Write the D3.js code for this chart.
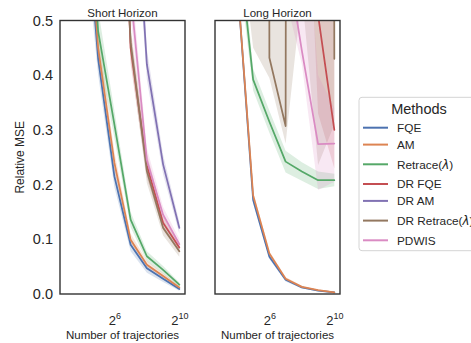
<!DOCTYPE html>
<html>
<head>
<meta charset="utf-8">
<script src="https://cdn.jsdelivr.net/npm/d3@7"></script>
<style>
  body { margin: 0; background: #fff; }
  text { font-family: "Liberation Sans", Arial, sans-serif; fill: #262626; }
</style>
</head>
<body>
<svg id="chart" width="471" height="343"></svg>
<script>
// Number of trajectories used for each estimate
const trajectories = [8, 16, 32, 64, 128, 256, 512, 1024];
const methods = ["FQE", "AM", "Retrace(λ)", "DR FQE", "DR AM", "DR Retrace(λ)", "PDWIS"];
const colors = ["#4c72b0", "#dd8452", "#55a868", "#c44e52", "#8172b3", "#937860", "#da8bc3"];
const panelTitles = ["Short Horizon", "Long Horizon"];
const yTicks = [0, 0.1, 0.2, 0.3, 0.4, 0.5];
const xTicks = [64, 1024];

// Relative MSE per trajectory count: [mean, lower CI, upper CI]
const shortFQE = [[2.0, 1.6, 2.4], [0.8, 0.7, 0.9], [0.43, 0.40, 0.46], [0.215, 0.195, 0.235], [0.09, 0.078, 0.102], [0.047, 0.039, 0.055], [0.028, 0.022, 0.034], [0.009, 0.006, 0.012]];
const shortAM = [[2.2, 1.8, 2.6], [0.85, 0.75, 0.95], [0.45, 0.42, 0.48], [0.24, 0.22, 0.26], [0.099, 0.088, 0.11], [0.0535, 0.046, 0.061], [0.033, 0.028, 0.038], [0.012, 0.009, 0.015]];
const shortRetrace = [[2.5, 2.0, 3.0], [0.95, 0.82, 1.08], [0.48, 0.44, 0.52], [0.31, 0.285, 0.335], [0.136, 0.122, 0.15], [0.069, 0.06, 0.078], [0.044, 0.037, 0.051], [0.017, 0.013, 0.021]];
const shortDRFQE = [[8, 6, 10], [5, 4, 6], [2.5, 2.1, 2.9], [1.2, 1.05, 1.35], [0.45, 0.42, 0.48], [0.235, 0.213, 0.257], [0.13, 0.117, 0.143], [0.085, 0.076, 0.094]];
const shortDRAM = [[10, 8, 12], [6, 5, 7], [3, 2.6, 3.4], [1.8, 1.6, 2.0], [0.9, 0.82, 0.98], [0.42, 0.392, 0.448], [0.237, 0.219, 0.255], [0.121, 0.11, 0.132]];
const shortDRRetrace = [[8, 6, 10], [5, 4, 6], [2.5, 2.1, 2.9], [1.1, 0.98, 1.22], [0.46, 0.43, 0.49], [0.225, 0.203, 0.247], [0.121, 0.107, 0.135], [0.078, 0.068, 0.088]];
const shortPDWIS = [[8, 6, 10], [5, 4, 6], [2.5, 2.1, 2.9], [1.3, 1.15, 1.45], [0.55, 0.51, 0.59], [0.245, 0.223, 0.267], [0.145, 0.131, 0.159], [0.091, 0.081, 0.101]];

const longFQE = [[1.5, 1.4, 1.6], [0.58, 0.56, 0.6], [0.172, 0.166, 0.178], [0.068, 0.064, 0.072], [0.026, 0.023, 0.029], [0.012, 0.01, 0.014], [0.006, 0.005, 0.007], [0.003, 0.002, 0.004]];
const longAM = [[1.5, 1.4, 1.6], [0.58, 0.56, 0.6], [0.18, 0.174, 0.186], [0.074, 0.07, 0.078], [0.028, 0.025, 0.031], [0.013, 0.011, 0.015], [0.007, 0.006, 0.008], [0.003, 0.002, 0.004]];
const longRetrace = [[2.0, 1.8, 2.2], [0.67, 0.62, 0.72], [0.392, 0.372, 0.412], [0.315, 0.295, 0.335], [0.242, 0.222, 0.262], [0.224, 0.207, 0.241], [0.208, 0.192, 0.224], [0.208, 0.197, 0.22]];
const longDRFQE = [[12, 10, 14], [11, 9, 13], [10, 8, 12], [9, 7, 11], [8, 6, 10], [7, 1.0, 14], [0.51, 0.33, 3.0], [0.30, 0.23, 1.5]];
const longDRAM = [[12, 10, 14], [11, 9, 13], [10, 8, 12], [9, 7, 11], [8, 6, 10], [7, 5, 9], [6, 4, 8], [5, 3, 7]];
const longDRRetrace = [[40, 5, 80], [35, 0.7, 70], [30, 0.45, 60], [0.432, 0.395, 50], [0.307, 0.275, 40], [20, 0.55, 50], [25, 0.236, 50], [0.43, 0.31, 40]];
const longPDWIS = [[10, 8, 12], [6, 5, 7], [3, 2.5, 3.5], [1.5, 1.2, 1.8], [0.63, 0.54, 2.0], [0.445, 0.42, 0.8], [0.274, 0.19, 0.4], [0.275, 0.205, 0.34]];

const panelSeries = [
  [shortFQE, shortAM, shortRetrace, shortDRFQE, shortDRAM, shortDRRetrace, shortPDWIS],
  [longFQE, longAM, longRetrace, longDRFQE, longDRAM, longDRRetrace, longPDWIS]
];

const svg = d3.select("#chart");
const plotTop = 20.5, plotBottom = 294;
const panelRanges = [[60, 185], [215, 340]];
const y = d3.scaleLinear().domain([0, 0.5]).range([plotBottom, plotTop]);

// Append label text, rendering "(λ)" with an italic lambda
function labelText(sel, label) {
  const m = label.match(/^(.*)\(λ\)$/);
  if (!m) { sel.text(label); return; }
  sel.append("tspan").text(m[1] + "(");
  sel.append("tspan").attr("font-family", "DejaVu Sans").attr("font-style", "italic").text("λ");
  sel.append("tspan").text(")");
}

panelSeries.forEach((seriesList, p) => {
  const [x0, x1] = panelRanges[p];
  // log2 axis with 5% margins around 2^3..2^10
  const x = d3.scaleLog().base(2).domain([2 ** 2.65, 2 ** 10.35]).range([x0, x1]);
  const g = svg.append("g");

  g.append("clipPath").attr("id", "clip" + p)
    .append("rect").attr("x", x0).attr("y", plotTop).attr("width", x1 - x0).attr("height", plotBottom - plotTop);

  const plot = g.append("g").attr("clip-path", `url(#clip${p})`);

  const area = d3.area()
    .x((d, i) => x(trajectories[i]))
    .y0(d => y(d[1]))
    .y1(d => y(d[2]));
  const line = d3.line()
    .x((d, i) => x(trajectories[i]))
    .y(d => y(d[0]));

  // confidence bands sit beneath every line
  seriesList.forEach((s, k) => {
    plot.append("path").attr("d", area(s))
      .attr("fill", colors[k]).attr("fill-opacity", 0.2).attr("stroke", "none");
  });
  seriesList.forEach((s, k) => {
    plot.append("path").attr("d", line(s))
      .attr("fill", "none").attr("stroke", colors[k]).attr("stroke-width", 1.75)
      .attr("stroke-linejoin", "round").attr("stroke-linecap", "round");
  });

  // x axis: powers of two with superscript exponents
  const xAxis = g.append("g").attr("transform", `translate(0,${plotBottom})`)
    .call(d3.axisBottom(x).tickValues(xTicks).tickSize(0).tickFormat(() => ""));
  xAxis.select(".domain").remove();
  xAxis.selectAll(".tick text").each(function (d) {
    const t = d3.select(this).attr("y", 31).attr("dy", 0)
      .attr("font-size", 13).attr("fill", "#262626")
      .attr("font-family", "Liberation Sans, Arial, sans-serif");
    t.append("tspan").text("2");
    t.append("tspan").attr("dy", -6.5).attr("font-size", 9).text(Math.log2(d));
  });

  if (p === 0) {
    const yAxis = g.append("g").attr("transform", `translate(${x0},0)`)
      .call(d3.axisLeft(y).tickValues(yTicks).tickSize(0).tickPadding(7).tickFormat(d3.format(".1f")));
    yAxis.select(".domain").remove();
    yAxis.selectAll(".tick text").attr("font-size", 14.5).attr("fill", "#262626")
      .attr("font-family", "Liberation Sans, Arial, sans-serif");
    g.append("text")
      .attr("transform", `translate(24,${(plotTop + plotBottom) / 2}) rotate(-90)`)
      .attr("text-anchor", "middle").attr("font-size", 12).text("Relative MSE");
  }

  g.append("rect").attr("x", x0).attr("y", plotTop).attr("width", x1 - x0).attr("height", plotBottom - plotTop)
    .attr("fill", "none").attr("stroke", "#333").attr("stroke-width", 1.4);

  g.append("text").attr("x", (x0 + x1) / 2).attr("y", 16.5)
    .attr("text-anchor", "middle").attr("font-size", 11.5).text(panelTitles[p]);

  g.append("text").attr("x", (x0 + x1) / 2).attr("y", 338.5)
    .attr("text-anchor", "middle").attr("font-size", 11.5).text("Number of trajectories");
});

// legend
const legend = svg.append("g");
legend.append("rect").attr("x", 359).attr("y", 97.3).attr("width", 122).attr("height", 153.4)
  .attr("rx", 3).attr("fill", "#fff").attr("stroke", "#d4d4d4").attr("stroke-width", 1);
legend.append("text").attr("x", 419).attr("y", 114).attr("text-anchor", "middle")
  .attr("font-size", 14.5).text("Methods");

let rowY = 127.7;
methods.forEach((m, k) => {
  if (k > 0) {
    const tall = m.includes("(") || methods[k - 1].includes("(");
    rowY += tall ? 19.7 : 16.9;
  }
  legend.append("line").attr("x1", 363).attr("x2", 388).attr("y1", rowY).attr("y2", rowY)
    .attr("stroke", colors[k]).attr("stroke-width", 2);
  const t = legend.append("text").attr("x", 397).attr("y", rowY + 4.2).attr("font-size", 11.8);
  labelText(t, m);
});
</script>
</body>
</html>
